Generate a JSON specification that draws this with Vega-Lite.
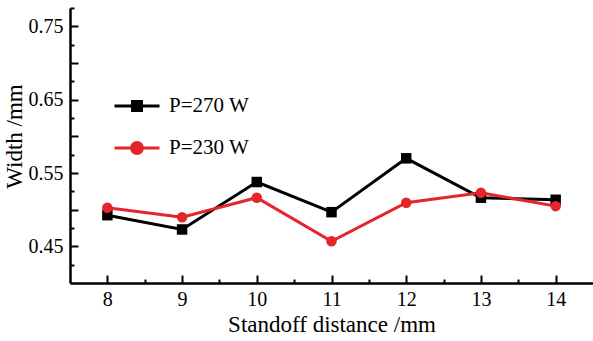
{
  "$schema": "https://vega.github.io/schema/vega-lite/v6.json",
  "width": 523,
  "height": 275,
  "autosize": {"type": "none"},
  "padding": {"left": 70, "top": 8, "right": 0, "bottom": 58},
  "background": "#ffffff",
  "data": {
    "values": [
      {"x": 8, "w": 0.4925, "s": "P=270 W"},
      {"x": 9, "w": 0.473, "s": "P=270 W"},
      {"x": 10, "w": 0.5377, "s": "P=270 W"},
      {"x": 11, "w": 0.4966, "s": "P=270 W"},
      {"x": 12, "w": 0.570, "s": "P=270 W"},
      {"x": 13, "w": 0.5163, "s": "P=270 W"},
      {"x": 14, "w": 0.5135, "s": "P=270 W"},
      {"x": 8, "w": 0.5026, "s": "P=230 W"},
      {"x": 9, "w": 0.4897, "s": "P=230 W"},
      {"x": 10, "w": 0.5163, "s": "P=230 W"},
      {"x": 11, "w": 0.4569, "s": "P=230 W"},
      {"x": 12, "w": 0.5094, "s": "P=230 W"},
      {"x": 13, "w": 0.523, "s": "P=230 W"},
      {"x": 14, "w": 0.5048, "s": "P=230 W"}
    ]
  },
  "encoding": {
    "x": {
      "field": "x", "type": "quantitative",
      "scale": {"domain": [7.5, 14.5], "nice": false, "zero": false},
      "axis": {
        "title": "Standoff distance /mm",
        "values": [8, 8.5, 9, 9.5, 10, 10.5, 11, 11.5, 12, 12.5, 13, 13.5, 14],
        "format": "~g",
        "labelExpr": "datum.value % 1 === 0 ? datum.label : ''",
        "grid": false,
        "tickSize": {"condition": {"test": "datum.value % 1 === 0", "value": -8}, "value": -4},
        "labelPadding": 14,
        "titlePadding": 4
      }
    },
    "y": {
      "field": "w", "type": "quantitative",
      "scale": {"domain": [0.4, 0.775], "nice": false, "zero": false},
      "axis": {
        "title": "Width /mm",
        "values": [0.425, 0.45, 0.475, 0.5, 0.525, 0.55, 0.575, 0.6, 0.625, 0.65, 0.675, 0.7, 0.725, 0.75, 0.775],
        "format": ".2f",
        "labelExpr": "abs(round(datum.value*100) % 10) == 5 ? datum.label : ''",
        "grid": false,
        "tickSize": {"condition": {"test": "round(datum.value*1000) % 50 == 0", "value": -8}, "value": -4},
        "labelPadding": 15,
        "titlePadding": 2,
        "titleY": 128
      }
    },
    "color": {
      "field": "s", "type": "nominal",
      "scale": {"domain": ["P=270 W", "P=230 W"], "range": ["#000000", "#e4252a"]},
      "legend": {
        "title": null,
        "orient": "none",
        "legendX": 43,
        "legendY": 74,
        "symbolSize": 2025,
        "symbolStrokeWidth": 3,
        "labelOffset": 8,
        "rowPadding": 7,
        "labelFont": "Liberation Serif",
        "labelFontSize": 21,
        "labelColor": "#000000",
        "encode": {
          "symbols": {
            "update": {
              "shape": {"signal": "datum.value === 'P=270 W' ? 'M-1,0H1M-0.2,-0.2H0.2V0.2H-0.2Z' : 'M-1,0H1M0.24,0A0.24,0.24 0 1,1 -0.24,0A0.24,0.24 0 1,1 0.24,0Z'"},
              "fill": {"scale": "color", "field": "value"},
              "fillOpacity": {"value": 1},
              "stroke": {"scale": "color", "field": "value"},
              "strokeWidth": {"value": 3},
              "opacity": {"value": 1}
            }
          }
        }
      }
    }
  },
  "layer": [
    {"mark": {"type": "line", "strokeWidth": 3}},
    {
      "mark": {"type": "point", "filled": true, "opacity": 1},
      "encoding": {
        "shape": {
          "condition": {"test": "datum.s === 'P=270 W'", "value": "square"},
          "value": "circle"
        },
        "size": {"value": 110}
      }
    }
  ],
  "config": {
    "view": {"stroke": null},
    "font": "Liberation Serif",
    "axis": {
      "domainColor": "#000000",
      "domainWidth": 2.5,
      "tickColor": "#000000",
      "tickWidth": 2,
      "labelFont": "Liberation Serif",
      "labelFontSize": 20,
      "labelColor": "#000000",
      "titleFont": "Liberation Serif",
      "titleFontSize": 23,
      "titleFontWeight": "normal",
      "titleColor": "#000000"
    }
  }
}
